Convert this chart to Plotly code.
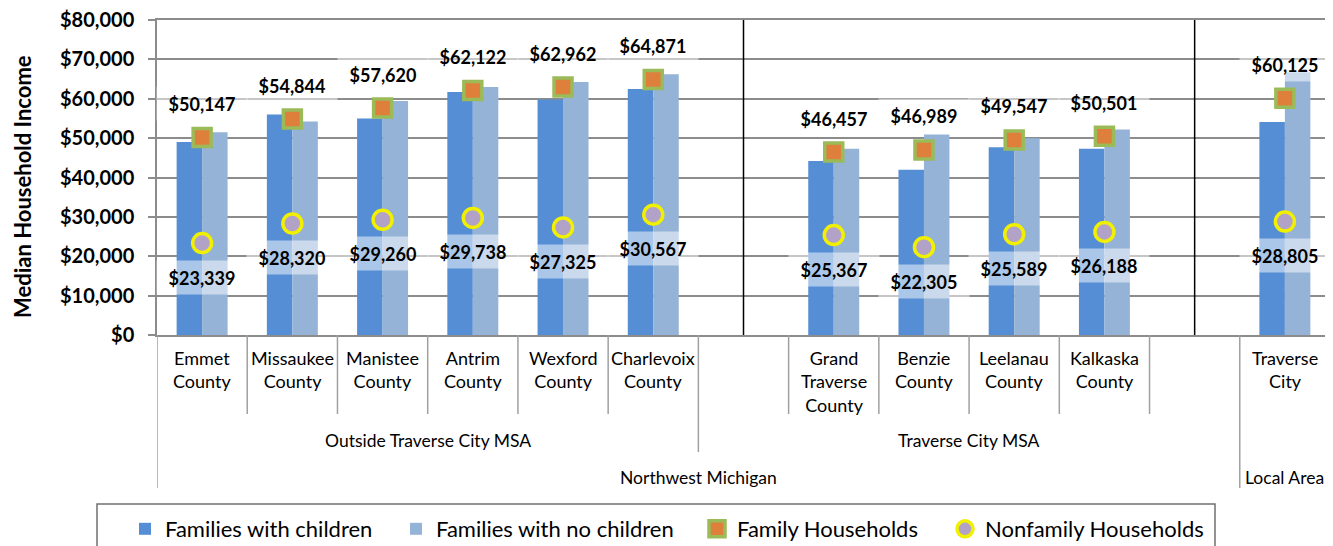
import plotly.graph_objects as go

# ---------------- data ----------------
slots = ["Emmet<br>County", "Missaukee<br>County", "Manistee<br>County", "Antrim<br>County",
         "Wexford<br>County", "Charlevoix<br>County", "",
         "Grand<br>Traverse<br>County", "Benzie<br>County", "Leelanau<br>County",
         "Kalkaska<br>County", "", "Traverse<br>City"]
with_children = [49000, 56000, 55000, 61700, 59800, 62500, None,
                 44200, 42000, 47700, 47300, None, 54100]
no_children = [51500, 54200, 59400, 63000, 64250, 66200, None,
               47300, 50900, 50000, 52200, None, 66700]
family_hh = [50147, 54844, 57620, 62122, 62962, 64871, None,
             46457, 46989, 49547, 50501, None, 60125]
nonfamily_hh = [23339, 28320, 29260, 29738, 27325, 30567, None,
                25367, 22305, 25589, 26188, None, 28805]
# (label, first slot, last slot)
mid_groups = [("Outside Traverse City MSA", 0, 5), ("Traverse City MSA", 6, 11), ("", 12, 12)]
top_groups = [("Northwest Michigan", 0, 11), ("Local Area", 12, 12)]
separator_slots = [6, 11]
y_title = "Median Household Income"

# ---------------- style ----------------
FONT = "Lato"
DARK = "#558ED5"
LIGHT = "#95B3D7"
ORANGE = "#DF7F3C"
GREEN = "#9BBB59"
LAVENDER = "#B3A2C7"
YELLOW = "#F0F000"
GRID = "#8C8C8C"
DIV = "#A0A0A0"

# the page body has an 8px margin, so the figure is drawn 8px in from the window corner
OFF = 8
W, H = 1333 - OFF, 546 - OFF
PLOT_L, PLOT_T, PLOT_R, PLOT_B = 157, 20, 1330, 335   # plot area in window pixels
ML, MT = PLOT_L - OFF, PLOT_T - OFF
PW, PH = PLOT_R - PLOT_L, PLOT_B - PLOT_T
MR = W - ML - PW
MB = H - MT - PH


def py(p):
    """window pixel y -> paper y"""
    return (PLOT_B - p) / PH


def px(p):
    """window pixel x -> paper x"""
    return (p - PLOT_L) / PW


x = list(range(len(slots)))

fig = go.Figure()
fig.add_trace(go.Bar(x=x, y=with_children, name="Families with children", legend="legend",
                     marker=dict(color=DARK, line=dict(width=0))))
fig.add_trace(go.Bar(x=x, y=no_children, name="Families with no children", legend="legend2",
                     marker=dict(color=LIGHT, line=dict(width=0))))
fig.add_trace(go.Scatter(x=x, y=family_hh, name="Family Households", mode="markers",
                         legend="legend3",
                         marker=dict(symbol="square", size=18, color=ORANGE,
                                     line=dict(color=GREEN, width=3.5))))
fig.add_trace(go.Scatter(x=x, y=nonfamily_hh, name="Nonfamily Households", mode="markers",
                         legend="legend4",
                         marker=dict(symbol="circle", size=19, color=LAVENDER,
                                     line=dict(color=YELLOW, width=3.5))))

LABEL_FONT = dict(family=FONT, size=18, color="black", weight="bold")
annotations = []
for xi, v in zip(x, family_hh):
    if v is None:
        continue
    annotations.append(dict(x=xi, y=v, xref="x", yref="y", text=f"${v:,}", showarrow=False,
                            yshift=34, font=LABEL_FONT,
                            bgcolor="rgba(255,255,255,0.5)", width=88, height=31))
for xi, v in zip(x, nonfamily_hh):
    if v is None:
        continue
    annotations.append(dict(x=xi, y=v, xref="x", yref="y", text=f"${v:,}", showarrow=False,
                            yshift=-34, font=LABEL_FONT,
                            bgcolor="rgba(255,255,255,0.5)", width=88, height=31))

CAT_FONT = dict(family=FONT, size=18, color="black")
for xi, lab in zip(x, slots):
    if lab:
        annotations.append(dict(x=xi, y=py(345), xref="x", yref="paper", text=lab, showarrow=False,
                                yanchor="top", font=CAT_FONT))
for lab, a, b in mid_groups:
    if lab:
        annotations.append(dict(x=(a + b) / 2, y=py(440), xref="x", yref="paper", text=lab,
                                showarrow=False, yanchor="middle",
                                font=dict(family=FONT, size=17.5, color="black")))
for lab, a, b in top_groups:
    annotations.append(dict(x=(a + b) / 2, y=py(477), xref="x", yref="paper", text=lab,
                            showarrow=False, yanchor="middle",
                            font=dict(family=FONT, size=17.5, color="black")))
# y-axis title
annotations.append(dict(x=px(22), y=py(187), xref="paper", yref="paper", text=y_title,
                        textangle=-90, showarrow=False, xanchor="center", yanchor="middle",
                        font=dict(family=FONT, size=22, color="black", weight="bold")))

shapes = []
for s in separator_slots:
    shapes.append(dict(type="line", xref="x", yref="paper", x0=s, x1=s, y0=0, y1=1,
                       line=dict(color="black", width=1.5)))
top_b = set()
for _, a, b in top_groups:
    top_b.update([a - 0.5, b + 0.5])
mid_b = set()
for _, a, b in mid_groups:
    mid_b.update([a - 0.5, b + 0.5])
for i in range(len(slots) + 1):
    bnd = i - 0.5
    if bnd in top_b:
        depth = 488
    elif bnd in mid_b:
        depth = 452
    else:
        depth = 414
    shapes.append(dict(type="line", xref="x", yref="paper", x0=bnd, x1=bnd, y0=0, y1=py(depth),
                       line=dict(color=DIV, width=1.5)))
shapes.append(dict(type="rect", xref="paper", yref="paper", x0=px(97), x1=px(1215),
                   y0=py(504), y1=py(580), line=dict(color="#707070", width=1.5),
                   fillcolor="rgba(0,0,0,0)"))

LEG_FONT = dict(family=FONT, size=22, color="black")
legend_symbol_x = [149, 420, 721, 969]   # window px of each legend symbol (reference)


def legend_box(sx):
    return dict(orientation="h", x=px(sx - 24), xanchor="left", y=py(508), yanchor="top",
                font=LEG_FONT, bgcolor="rgba(0,0,0,0)", borderwidth=0)


fig.update_layout(
    width=W, height=H, autosize=False,
    margin=dict(l=ML, r=MR, t=MT, b=MB, autoexpand=False),
    paper_bgcolor="white", plot_bgcolor="white",
    barmode="group", bargap=0.435, bargroupgap=0,
    font=dict(family=FONT, color="black"),
    showlegend=True,
    legend=legend_box(legend_symbol_x[0]),
    legend2=legend_box(legend_symbol_x[1]),
    legend3=legend_box(legend_symbol_x[2]),
    legend4=legend_box(legend_symbol_x[3]),
    annotations=annotations,
    shapes=shapes,
)
fig.update_xaxes(range=[-0.5, len(slots) - 0.5], showticklabels=False, ticks="", showgrid=False,
                 zeroline=False, showline=True, linecolor=GRID, linewidth=1.5, mirror=True)
fig.update_yaxes(range=[0, 80000], dtick=10000, tickprefix="$", tickformat=",d",
                 ticks="outside", ticklen=7, tickcolor=GRID, tickwidth=1.5,
                 ticklabelstandoff=10, ticklabeloverflow="allow",
                 tickfont=dict(family=FONT, size=20, color="black", weight="bold"),
                 showgrid=True, gridcolor=GRID, gridwidth=1.5, zeroline=False,
                 showline=True, linecolor=GRID, linewidth=1.5, mirror=True)

fig.write_html("out.html")
